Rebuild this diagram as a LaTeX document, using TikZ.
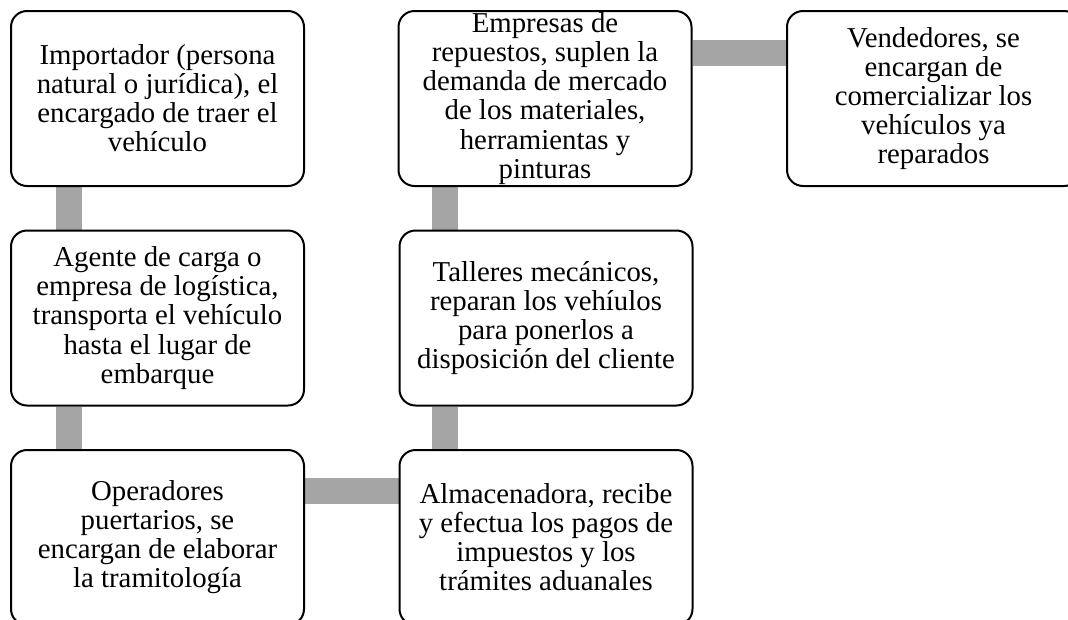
\documentclass[tikz,border=0pt]{standalone}
\usepackage{fontspec}
\setmainfont{Liberation Serif}
\usetikzlibrary{backgrounds}
\definecolor{linkgray}{HTML}{A5A5A5}
\begin{document}
\begin{tikzpicture}[x=0.75pt,y=-0.75pt,
		box/.style={draw,line width=1.5pt,rounded corners=12pt,fill=white,minimum width=219.75pt,minimum height=131.25pt,align=center,inner sep=0pt,font=\fontsize{21.6}{21.8}\selectfont},
		link/.style={draw=linkgray,line width=19.5pt}]
		\useasboundingbox (0,0) rectangle (1068,619);
		\node[box] (importador) at (157.5,98.5) {Importador (persona\\natural o jurídica), el\\encargado de traer el\\vehículo};
		\node[box] (agente) at (157.5,318) {Agente de carga o\\empresa de logística,\\transporta el vehículo\\hasta el lugar de\\embarque};
		\node[box] (operadores) at (157.5,537.5) {Operadores\\puertarios, se\\encargan de elaborar\\la tramitología};
		\node[box] (almacen) at (546,537.5) {Almacenadora, recibe\\y efectua los pagos de\\impuestos y los\\trámites aduanales};
		\node[box] (talleres) at (546,318) {Talleres mecánicos,\\reparan los vehíulos\\para ponerlos a\\disposición del cliente};
		\node[box] (empresas) at (545,98.5) {Empresas de\\repuestos, suplen la\\demanda de mercado\\de los materiales,\\herramientas y\\pinturas};
		\node[box] (vendedores) at (933.5,98.5) {Vendedores, se\\encargan de\\comercializar los\\vehículos ya\\reparados};
		\begin{pgfonlayer}{background}
			\draw[link] ([xshift=44.25pt]importador.south west) -- ([xshift=44.25pt]agente.north west);
			\draw[link] ([xshift=44.25pt]agente.south west) -- ([xshift=44.25pt]operadores.north west);
			\draw[link] ([yshift=-31.5pt]operadores.north east) -- ([yshift=-31.5pt]almacen.north west);
			\draw[link] ([xshift=34.5pt]almacen.north west) -- ([xshift=34.5pt]talleres.south west);
			\draw[link] ([xshift=34.5pt]talleres.north west) -- ([xshift=35.25pt]empresas.south west);
			\draw[link] ([yshift=-32.25pt]empresas.north east) -- ([yshift=-32.25pt]vendedores.north west);
		\end{pgfonlayer}
	\end{tikzpicture}
\end{document}
